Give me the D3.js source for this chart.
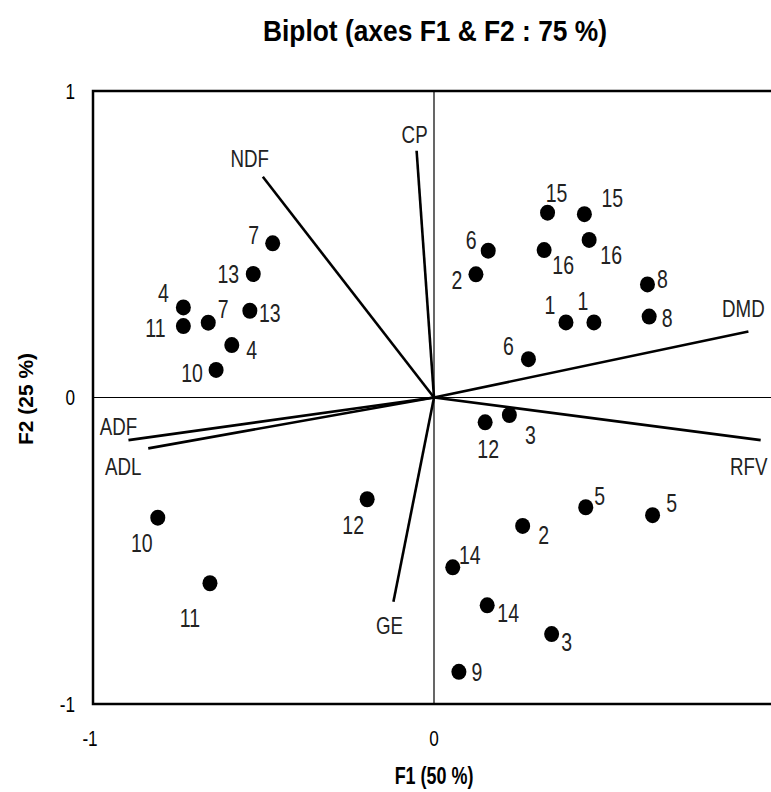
<!DOCTYPE html>
<html>
<head>
<meta charset="utf-8">
<script src="https://cdn.jsdelivr.net/npm/d3@7"></script>
<style>
  body { margin: 0; background: #fff; }
  svg { display: block; }
  text { font-family: 'Liberation Sans', Arial, sans-serif; fill: #000; }
</style>
</head>
<body>
<svg id="chart" width="771" height="792"></svg>
<script>
// observations (two points per sample number)
const obsNames = ["1","1","2","2","3","3","4","4","5","5","6","6","7","7","8","8","9",
                  "10","10","11","11","12","12","13","13","14","14","15","15","16","16"];
const obsF1 = [0.387,0.469, 0.123,0.260, 0.221,0.345, -0.735,-0.593, 0.445,0.641, 0.159,0.277,
               -0.473,-0.662, 0.626,0.631, 0.073, -0.639,-0.810, -0.735,-0.657, 0.150,-0.196,
               -0.530,-0.540, 0.055,0.156, 0.333,0.441, 0.323,0.455];
const obsF2 = [0.245,0.245, 0.402,-0.419, -0.057,-0.772, 0.294,0.171, -0.358,-0.384, 0.479,0.125,
               0.503,0.244, 0.369,0.264, -0.895, 0.090,-0.392, 0.233,-0.606, -0.081,-0.332,
               0.403,0.283, -0.554,-0.678, 0.603,0.598, 0.481,0.514];

// variables (loadings)
const varNames = ["NDF","CP","DMD","RFV","ADF","ADL","GE"];
const varF1 = [-0.502, -0.051, 0.922, 0.958, -0.896, -0.838, -0.119];
const varF2 = [0.720, 0.805, 0.215, -0.139, -0.139, -0.166, -0.666];

const xTicks = [-1, 0];
const yTicks = [-1, 0, 1];

// label placement (pixels from the mark)
const obsLabelOffset = [[-16,-17],[-11,-21],[-19,6],[21,9],[21,20],[15,8],[-20,-14],[20,5],
  [14,-11],[19,-12],[-17,-10],[-20,-13],[-19,-8],[15,-13],[15,-5],[18,2],[18,0],
  [-24,3],[-16,26],[-28,2],[-20,35],[3,27],[-14,26],[-25,0],[20,2],[17,-12],[21,8],
  [9,-19],[28,-16],[19,15],[22,15]];
const varLabelOffset = [[-13,-18],[-2,-16],[-5,-23],[-12,26],[-10,-14],[-25,18],[-4,24]];

const svg = d3.select("#chart");

var x = d3.scaleLinear().domain([-1, 1]).range([93, 775]);
var y = d3.scaleLinear().domain([-1, 1]).range([704, 91]);

// squeeze text horizontally like a narrow font
const squeeze = 0.78;
function narrowAt(px, py) {
    return "translate(" + px + "," + py + ") scale(" + squeeze + ",1)";
}

//title
svg.append("text")
    .attr("x", 435).attr("y", 41)
    .attr("text-anchor", "middle")
    .attr("textLength", 344).attr("lengthAdjust", "spacingAndGlyphs")
    .style("font-size", "30px").style("font-weight", "bold")
    .text("Biplot (axes F1 & F2 : 75 %)");

//zero lines
svg.append("line")
    .attr("x1", x(-1)).attr("x2", x(1))
    .attr("y1", y(0)).attr("y2", y(0))
    .attr("stroke", "#000").attr("stroke-width", 1.2);
svg.append("line")
    .attr("x1", x(0)).attr("x2", x(0))
    .attr("y1", y(-1)).attr("y2", y(1))
    .attr("stroke", "#000").attr("stroke-width", 1.2);

//frame
svg.append("rect")
    .attr("x", x(-1)).attr("y", y(1))
    .attr("width", x(1) - x(-1)).attr("height", y(-1) - y(1))
    .attr("fill", "none").attr("stroke", "#000").attr("stroke-width", 2.5);

//tick labels
svg.selectAll(".ytick").data(yTicks).join("text")
    .attr("class", "ytick")
    .attr("transform", d => narrowAt(75, y(d)))
    .attr("dy", "0.35em")
    .attr("text-anchor", "end")
    .style("font-size", "22px")
    .text(d => d);
svg.selectAll(".xtick").data(xTicks).join("text")
    .attr("class", "xtick")
    .attr("transform", d => narrowAt(x(d) - (d < 0 ? 3 : 0), 746))
    .attr("text-anchor", "middle")
    .style("font-size", "22px")
    .text(d => d);

//axis titles
svg.append("text")
    .attr("transform", narrowAt(434, 784))
    .attr("text-anchor", "middle")
    .style("font-size", "23px").style("font-weight", "bold")
    .text("F1 (50 %)");
svg.append("text")
    .attr("transform", "translate(33,399) rotate(-90)")
    .attr("text-anchor", "middle")
    .style("font-size", "21px").style("font-weight", "bold")
    .text("F2 (25 %)");

//variable vectors
const vars = varNames.map((n, i) => ({name: n, f1: varF1[i], f2: varF2[i], off: varLabelOffset[i]}));
svg.selectAll(".vec").data(vars).join("line")
    .attr("class", "vec")
    .attr("x1", x(0)).attr("y1", y(0))
    .attr("x2", d => x(d.f1)).attr("y2", d => y(d.f2))
    .attr("stroke", "#000").attr("stroke-width", 2.6);
svg.selectAll(".vlab").data(vars).join("text")
    .attr("class", "vlab")
    .attr("transform", d => narrowAt(x(d.f1) + d.off[0], y(d.f2) + d.off[1]))
    .attr("dy", "0.35em")
    .attr("text-anchor", "middle")
    .style("font-size", "24px")
    .style("fill", "#222")
    .text(d => d.name);

//observations
const obs = obsNames.map((n, i) => ({name: n, f1: obsF1[i], f2: obsF2[i], off: obsLabelOffset[i]}));
svg.selectAll(".pt").data(obs).join("ellipse")
    .attr("class", "pt")
    .attr("cx", d => x(d.f1)).attr("cy", d => y(d.f2))
    .attr("rx", 7.5).attr("ry", 8)
    .attr("fill", "#000");
svg.selectAll(".olab").data(obs).join("text")
    .attr("class", "olab")
    .attr("transform", d => narrowAt(x(d.f1) + d.off[0], y(d.f2) + d.off[1]))
    .attr("dy", "0.35em")
    .attr("text-anchor", "middle")
    .style("font-size", "25px")
    .style("fill", "#222")
    .text(d => d.name);
</script>
</body>
</html>
